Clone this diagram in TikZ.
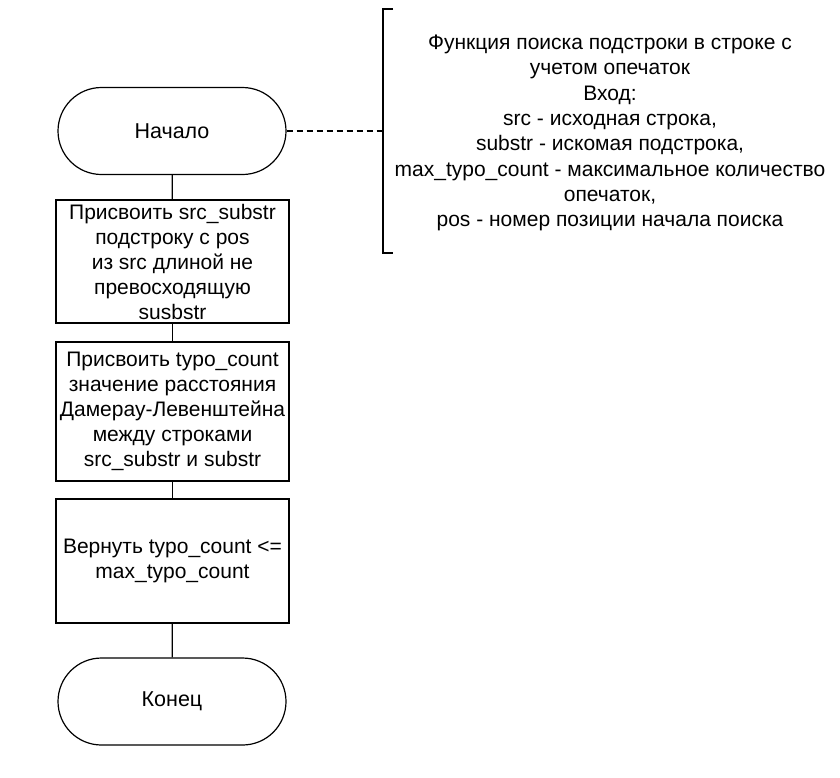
\documentclass[tikz,border=0pt]{standalone}
\usepackage{fontspec}
\setmainfont{Liberation Sans}
\usetikzlibrary{shapes.misc,positioning}

\begin{document}
\begin{tikzpicture}[x=1pt,y=-1pt,line width=1.2pt,
		term/.style={draw,rounded rectangle,minimum width=228pt,minimum height=87pt,inner sep=0pt,font=\fontsize{21.5}{25}\selectfont},
		proc/.style={draw,rectangle,minimum width=233pt,inner sep=0pt,align=center,font=\fontsize{21}{25}\selectfont}]
		\useasboundingbox (0,0) rectangle (840,777);
		
		\node[term] (start) at (172,131) {Начало};
		\node[proc,minimum height=123pt] (assign) at (172.5,261.5) {Присвоить src\_substr\\подстроку с pos\\из src длиной не\\превосходящую\\susbstr};
		\node[proc,minimum height=139pt] (dist) at (172.5,411.5) {Присвоить typo\_count\\значение расстояния\\Дамерау-Левенштейна\\между строками\\src\_substr и substr};
		\node[proc,minimum height=124pt] (ret) at (172.5,561) {Вернуть typo\_count <=\\max\_typo\_count};
		\node[term] (stop) at (172,701.5) {Конец};
		
		\draw (start) -- (assign);
		\draw (assign) -- (dist);
		\draw (dist) -- (ret);
		\draw (ret) -- (stop);
		
		% annotation bracket
		\draw (393,9) -- (383,9) -- (383,253) -- (393,253);
		\coordinate (brk) at (383,131);
		\draw[dash pattern=on 6pt off 4pt] (start.east) -- (brk);
		\node[align=center,font=\fontsize{21}{25.3}\selectfont] (note) at (610,133) {Функция поиска подстроки в строке с\\учетом опечаток\\Вход:\\src - исходная строка,\\substr - искомая подстрока,\\max\_typo\_count - максимальное количество\\опечаток,\\pos - номер позиции начала поиска};
\end{tikzpicture}
\end{document}
